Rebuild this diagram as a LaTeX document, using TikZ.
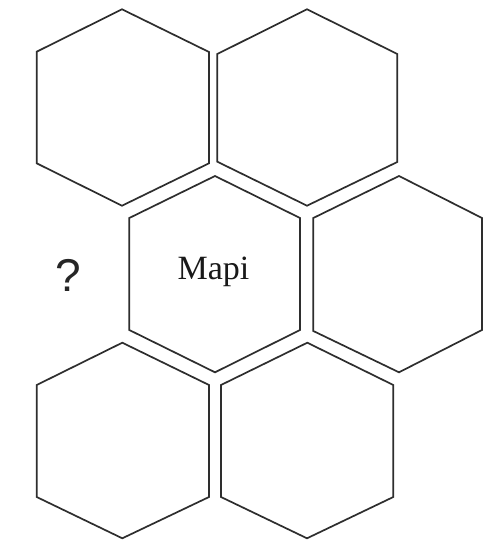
\documentclass[tikz,border=0pt]{standalone}
\usepackage{fontspec}
\newfontfamily\qfont{Liberation Sans}
\newfontfamily\mfont{Liberation Serif}
\begin{document}
\begin{tikzpicture}[x=1pt,y=-1pt,
  hexline/.style={draw=black!82,line width=1.7pt,line join=miter},
  label/.style={inner sep=0pt,anchor=base}]
\useasboundingbox[fill=white] (0,0) rectangle (483,540);
% top-left
\draw[hexline] (122,9.3) -- (209,52) -- (209,163.3) -- (122,205.7) -- (36.7,163.3) -- (36.7,51.7) -- cycle;
% top-right
\draw[hexline] (307,9.3) -- (397.3,54) -- (397.3,162) -- (307,205.7) -- (217.3,161.7) -- (217.3,54) -- cycle;
% middle (Mapi)
\draw[hexline] (215,176) -- (300,218) -- (300,330) -- (215,372.3) -- (129.3,330) -- (129.3,218) -- cycle;
% middle-right
\draw[hexline] (399,176) -- (482,218) -- (482,330) -- (399,372.3) -- (313.3,331) -- (313.3,218) -- cycle;
% bottom-left
\draw[hexline] (122.3,342.7) -- (209,385) -- (209,497) -- (122.3,538.3) -- (36.7,497) -- (36.7,385) -- cycle;
% bottom-middle
\draw[hexline] (307.3,342.7) -- (393.3,385) -- (393.3,497) -- (307,538.3) -- (221,497) -- (221,385) -- cycle;
\node[label,font=\mfont\fontsize{34}{38}\selectfont,text=black!90] (mapi) at (213.5,279) {Mapi};
\node[label,font=\qfont\fontsize{46}{52}\selectfont,text=black!85] (q) at (68,291) {?};
\end{tikzpicture}
\end{document}
